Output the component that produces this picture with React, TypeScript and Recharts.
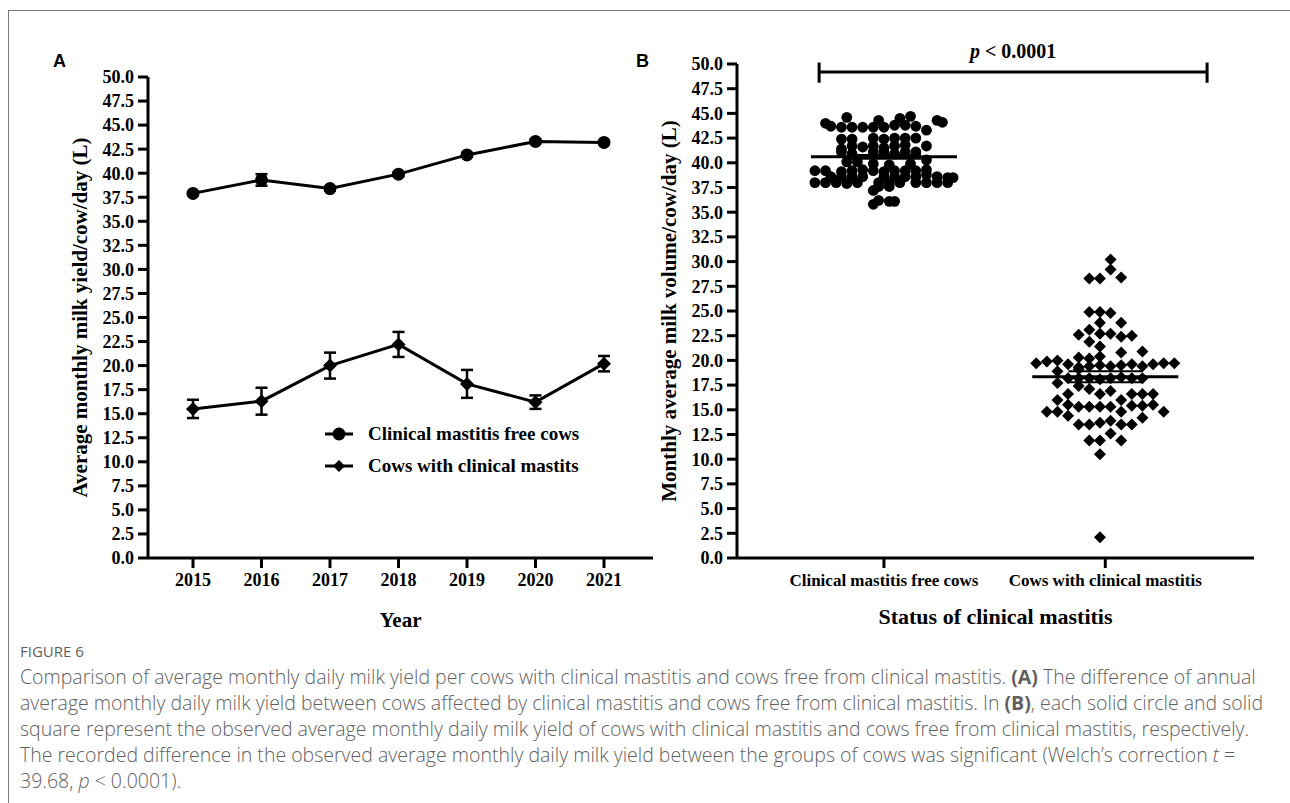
import React from 'react';
import {
  LineChart,
  Line,
  XAxis,
  YAxis,
  ErrorBar,
  Legend,
  ScatterChart,
  Scatter,
  ReferenceLine,
} from 'recharts';

// ---- panel A: yearly means ----
const years = ['2015', '2016', '2017', '2018', '2019', '2020', '2021'];
const freeMeans = [37.9, 39.3, 38.4, 39.9, 41.9, 43.3, 43.2];
const freeErrors = [0.2, 0.6, 0.2, 0.2, 0.2, 0.2, 0.2];
const mastitisMeans = [15.5, 16.3, 20.0, 22.2, 18.1, 16.2, 20.2];
const mastitisErrors = [0.95, 1.4, 1.35, 1.3, 1.45, 0.7, 0.8];

const yTicks = [
  0, 2.5, 5, 7.5, 10, 12.5, 15, 17.5, 20, 22.5, 25, 27.5, 30, 32.5, 35, 37.5, 40, 42.5, 45, 47.5, 50,
];

// ---- panel B: monthly values, one per point (lane = beeswarm column) ----
const groups = ['Clinical mastitis free cows', 'Cows with clinical mastitis'];

const freeValues = [
  44.6, 44.3, 44.5, 44.7,
  44.0, 44.3, 44.1,
  43.7, 43.6, 43.6, 43.6, 43.6, 43.6, 43.8, 43.8, 43.7, 43.3,
  42.4, 42.4, 42.5, 42.4, 42.5, 42.5, 42.5,
  41.4, 41.7, 41.6, 41.7, 41.5, 41.7, 41.8, 41.7,
  41.1, 40.9, 41.1, 41.1, 40.9, 41.1, 41.1,
  40.1, 40.1, 39.9, 39.8, 39.9, 40.3,
  39.2, 39.2, 39.1, 39.2, 39.3, 39.2, 39.1, 39.2, 39.2, 39.2, 39.3,
  38.6, 38.6, 38.6, 38.6, 38.6, 38.6, 38.6, 38.6, 38.8, 38.6, 38.5, 38.5,
  38.0, 38.0, 38.0, 37.9, 38.0, 38.0, 37.9, 38.0, 38.0, 38.0, 38.0, 38.0,
  37.6, 37.6,
  37.2,
  36.2, 36.1, 36.1,
  35.8,
];
const freeLanes = [
  -7, -1, 3, 5,
  -11, 10, 11,
  -10, -8, -6, -4, -2, 0, 2, 4, 6, 8,
  -8, -6, -2, 0, 2, 4, 6,
  -8, -6, -4, -2, 0, 2, 4, 8,
  -8, -6, -2, 0, 2, 4, 6,
  -7, -5, -2, 1, 5, 8,
  -13, -11, -8, -6, -4, -2, 0, 2, 4, 6, 8,
  -10, -8, -6, -4, 0, 2, 4, 6, 8, 10, 12, 13,
  -13, -11, -9, -7, -5, -1, 1, 3, 6, 8, 10, 12,
  -1, 1,
  -2,
  -1, 1, 2,
  -2,
];

const mastitisValues = [
  30.2, 29.2,
  28.3, 28.3, 28.4,
  24.9, 24.9, 24.8,
  23.8, 23.8,
  23.1,
  22.6, 22.7, 22.7, 22.4, 22.5,
  21.9,
  21.4,
  20.8, 20.9,
  20.3, 20.2, 20.4,
  19.7, 19.9, 20.0, 19.6, 19.3, 19.4, 19.5, 19.4, 19.5, 19.6, 19.4, 19.6, 19.7, 19.7,
  18.9, 19.1,
  18.2, 18.2, 18.2, 18.1, 18.2, 18.3, 18.2, 18.2,
  17.7, 17.4, 17.1,
  16.6, 16.6, 16.9, 16.6, 16.6, 16.6,
  16.0, 16.0,
  15.5, 15.3, 15.3, 15.3, 15.3, 15.4, 15.4, 15.5,
  14.8, 14.8, 14.8, 14.8,
  14.4, 14.2,
  13.5, 13.5, 13.7, 13.9, 13.5, 13.5,
  12.6,
  11.9, 11.9, 11.9,
  10.5,
  2.1,
];
const mastitisLanes = [
  1, 1,
  -3, -1, 3,
  -3, -1, 1,
  -1, 3,
  -3,
  -5, -1, 1, 3, 5,
  -3,
  -1,
  3, 7,
  -5, -3, -1,
  -13, -11, -9, -7, -5, -3, -1, 1, 3, 5, 7, 9, 11, 13,
  -9, -5,
  -7, -5, -3, -1, 1, 3, 5, 7,
  -9, -5, -3,
  -7, -1, 1, 5, 7, 9,
  -9, 3,
  -7, -5, -3, -1, 1, 5, 7, 9,
  -11, -9, 3, 11,
  -7, 7,
  -5, -3, -1, 1, 3, 5,
  1,
  -3, -1, 3,
  -1,
  -1,
];

const groupMeans = [40.6, 18.35];
const groupSems = [0.2, 0.55];
const pText = '0.0001';
const bracketY = 49.2;
const bracketFrom = 0.707;
const bracketTo = 2.46;

// ---- styling ----
const SERIF = '"Liberation Serif", "Times New Roman", serif';
const SANS = '"Liberation Sans", Arial, sans-serif';
const CAPTION_FONT = '"Open Sans", sans-serif';
const LANE = 0.024;
const MEAN_HALF = 0.33;
const SEM_HALF = 0.167;

const lineData = years.map((year, i) => ({
  year,
  free: freeMeans[i],
  freeErr: freeErrors[i],
  mastitis: mastitisMeans[i],
  mastitisErr: mastitisErrors[i],
}));

const freePoints = freeValues.map((v, i) => ({ x: 1 + freeLanes[i] * LANE, y: v }));
const mastitisPoints = mastitisValues.map((v, i) => ({ x: 2 + mastitisLanes[i] * LANE, y: v }));

const tickStyle = { fill: '#000', fontSize: 18, fontWeight: 700, fontFamily: SERIF };
const axisStroke = { stroke: '#000', strokeWidth: 3 };
const titleStyle = { fill: '#000', fontSize: 21, fontWeight: 700, fontFamily: SERIF };

const CircleDot = (props: any) => {
  const { cx, cy } = props;
  if (cx == null || cy == null) return null;
  return <circle cx={cx} cy={cy} r={6.5} fill="#000" />;
};

const DiamondDot = (props: any) => {
  const { cx, cy } = props;
  if (cx == null || cy == null) return null;
  const r = 7;
  return (
    <polygon
      points={`${cx},${cy - r} ${cx + r},${cy} ${cx},${cy + r} ${cx - r},${cy}`}
      fill="#000"
    />
  );
};

const SmallCircle = (props: any) => <circle cx={props.cx} cy={props.cy} r={5.4} fill="#000" />;

const SmallDiamond = (props: any) => {
  const { cx, cy } = props;
  const r = 6;
  return (
    <polygon
      points={`${cx},${cy - r} ${cx + r},${cy} ${cx},${cy + r} ${cx - r},${cy}`}
      fill="#000"
    />
  );
};

const LegendContent = (props: any) => {
  const items = props.payload || [];
  return (
    <div style={{ fontFamily: SERIF, fontWeight: 700, fontSize: 19, color: '#000' }}>
      {items.map((item: any, i: number) => (
        <div key={item.value} style={{ display: 'flex', alignItems: 'center', height: 32 }}>
          <svg width={34} height={20} style={{ marginRight: 12 }}>
            <line x1={3} y1={10} x2={31} y2={10} stroke="#000" strokeWidth={3} />
            {i === 0 ? (
              <circle cx={17} cy={10} r={6.5} fill="#000" />
            ) : (
              <polygon points="17,4 23,10 17,16 11,10" fill="#000" />
            )}
          </svg>
          <span>{item.value}</span>
        </div>
      ))}
    </div>
  );
};

const PLabel = (props: any) => {
  const vb = props.viewBox || {};
  const x = (vb.x ?? 0) + (vb.width ?? 0) / 2;
  const y = (vb.y ?? 0) - 14;
  return (
    <text x={x} y={y} textAnchor="middle" fontFamily={SERIF} fontWeight={700} fontSize={20} fill="#000">
      <tspan fontStyle="italic">p</tspan>
      <tspan>{` < ${pText}`}</tspan>
    </text>
  );
};

const PanelA = () => (
  <LineChart
    width={670}
    height={650}
    data={lineData}
    margin={{ top: 77, right: 17, left: 48, bottom: 17 }}
  >
    <XAxis
      dataKey="year"
      padding={{ left: 45, right: 49 }}
      interval={0}
      axisLine={axisStroke}
      tickLine={axisStroke}
      tickSize={10}
      tickMargin={5}
      tick={tickStyle}
      height={75}
      label={{ value: 'Year', position: 'insideBottom', offset: 6, style: titleStyle }}
    />
    <YAxis
      type="number"
      domain={[0, 50]}
      ticks={yTicks}
      interval={0}
      allowDataOverflow
      width={100}
      axisLine={axisStroke}
      tickLine={axisStroke}
      tickSize={10}
      tickMargin={4}
      tick={tickStyle}
      tickFormatter={(v: number) => v.toFixed(1)}
      label={{
        value: 'Average monthly milk yield/cow/day (L)',
        angle: -90,
        position: 'center',
        dx: -18,
        style: { ...titleStyle, textAnchor: 'middle' },
      }}
    />
    <Legend
      layout="vertical"
      align="center"
      verticalAlign="middle"
      wrapperStyle={{ left: 322, top: 418, width: 300 }}
      content={LegendContent}
    />
    <Line
      dataKey="free"
      name="Clinical mastitis free cows"
      stroke="#000"
      strokeWidth={3}
      dot={CircleDot}
      isAnimationActive={false}
    >
      <ErrorBar dataKey="freeErr" width={6} stroke="#000" strokeWidth={2.5} direction="y" />
    </Line>
    <Line
      dataKey="mastitis"
      name="Cows with clinical mastits"
      stroke="#000"
      strokeWidth={3}
      dot={DiamondDot}
      isAnimationActive={false}
    >
      <ErrorBar dataKey="mastitisErr" width={6} stroke="#000" strokeWidth={2.5} direction="y" />
    </Line>
  </LineChart>
);

const PanelB = () => (
  <ScatterChart width={670} height={650} margin={{ top: 64, right: 36, left: 17, bottom: 17 }}>
    <XAxis
      type="number"
      dataKey="x"
      domain={[0.336, 2.672]}
      allowDataOverflow
      ticks={[1, 2]}
      interval={0}
      tickFormatter={(v: number) => groups[v - 1]}
      axisLine={axisStroke}
      tickLine={axisStroke}
      tickSize={10}
      tickMargin={6}
      tick={{ ...tickStyle, fontSize: 17 }}
      height={75}
      label={{
        value: 'Status of clinical mastitis',
        position: 'insideBottom',
        offset: 9,
        style: { ...titleStyle, fontSize: 22 },
      }}
    />
    <YAxis
      type="number"
      dataKey="y"
      domain={[0, 50]}
      ticks={yTicks}
      interval={0}
      allowDataOverflow
      width={100}
      axisLine={axisStroke}
      tickLine={axisStroke}
      tickSize={10}
      tickMargin={4}
      tick={tickStyle}
      tickFormatter={(v: number) => v.toFixed(1)}
      label={{
        value: 'Monthly average milk volume/cow/day (L)',
        angle: -90,
        position: 'center',
        dx: -18,
        style: { ...titleStyle, textAnchor: 'middle' },
      }}
    />
    <Scatter data={freePoints} shape={SmallCircle} isAnimationActive={false} />
    <Scatter data={mastitisPoints} shape={SmallDiamond} isAnimationActive={false} />
    {groupMeans.map((m, i) => (
      <ReferenceLine
        key={`mean-${i}`}
        segment={[
          { x: i + 1 - MEAN_HALF, y: m },
          { x: i + 1 + MEAN_HALF, y: m },
        ]}
        stroke="#000"
        strokeWidth={3}
        ifOverflow="visible"
      />
    ))}
    {groupMeans.map((m, i) =>
      [m + groupSems[i], m - groupSems[i]].map((v, j) => (
        <ReferenceLine
          key={`sem-${i}-${j}`}
          segment={[
            { x: i + 1 - SEM_HALF, y: v },
            { x: i + 1 + SEM_HALF, y: v },
          ]}
          stroke="#000"
          strokeWidth={2}
          ifOverflow="visible"
        />
      )),
    )}
    <ReferenceLine
      segment={[
        { x: bracketFrom, y: bracketY },
        { x: bracketTo, y: bracketY },
      ]}
      stroke="#000"
      strokeWidth={3}
      ifOverflow="visible"
      label={PLabel}
    />
    {[bracketFrom, bracketTo].map((x) => (
      <ReferenceLine
        key={`end-${x}`}
        segment={[
          { x, y: bracketY - 1.1 },
          { x, y: bracketY + 0.95 },
        ]}
        stroke="#000"
        strokeWidth={3}
        ifOverflow="visible"
      />
    ))}
  </ScatterChart>
);

const panelLetter: React.CSSProperties = {
  position: 'absolute',
  fontFamily: SANS,
  fontWeight: 700,
  fontSize: 18,
  lineHeight: '18px',
  color: '#000',
};

const captionLine: React.CSSProperties = { whiteSpace: 'nowrap' };
const bold: React.CSSProperties = { fontWeight: 700 };

export default function App() {
  return (
    <div
      style={{
        position: 'absolute',
        left: 0,
        top: 0,
        width: 1290,
        height: 803,
        overflow: 'hidden',
        background: '#fff',
      }}
    >
      <div
        style={{
          position: 'absolute',
          left: 8,
          top: 10,
          width: 1300,
          height: 820,
          borderLeft: '1px solid #7a7a7a',
          borderTop: '1px solid #7a7a7a',
        }}
      />
      <div style={{ ...panelLetter, left: 53, top: 52 }}>A</div>
      <div style={{ ...panelLetter, left: 636, top: 52 }}>B</div>
      <div style={{ position: 'absolute', left: 0, top: 0 }}>
        <PanelA />
      </div>
      <div style={{ position: 'absolute', left: 620, top: 0 }}>
        <PanelB />
      </div>
      <div
        style={{
          position: 'absolute',
          left: 20,
          top: 641,
          fontFamily: CAPTION_FONT,
          fontSize: 15,
          color: '#5f5f5f',
        }}
      >
        FIGURE 6
      </div>
      <div
        style={{
          position: 'absolute',
          left: 20,
          top: 664,
          fontFamily: CAPTION_FONT,
          fontSize: 19.5,
          fontWeight: 300,
          lineHeight: '26px',
          color: '#5f5f5f',
        }}
      >
        <div style={captionLine}>
          Comparison of average monthly daily milk yield per cows with clinical mastitis and cows free
          from clinical mastitis. <span style={bold}>(A)</span> The difference of annual
        </div>
        <div style={captionLine}>
          average monthly daily milk yield between cows affected by clinical mastitis and cows free from
          clinical mastitis. In <span style={bold}>(B)</span>, each solid circle and solid
        </div>
        <div style={captionLine}>
          square represent the observed average monthly daily milk yield of cows with clinical mastitis
          and cows free from clinical mastitis, respectively.
        </div>
        <div style={captionLine}>
          The recorded difference in the observed average monthly daily milk yield between the groups of
          cows was significant (Welch’s correction <i>t</i> =
        </div>
        <div style={captionLine}>
          39.68, <i>p</i> &lt; 0.0001).
        </div>
      </div>
    </div>
  );
}
